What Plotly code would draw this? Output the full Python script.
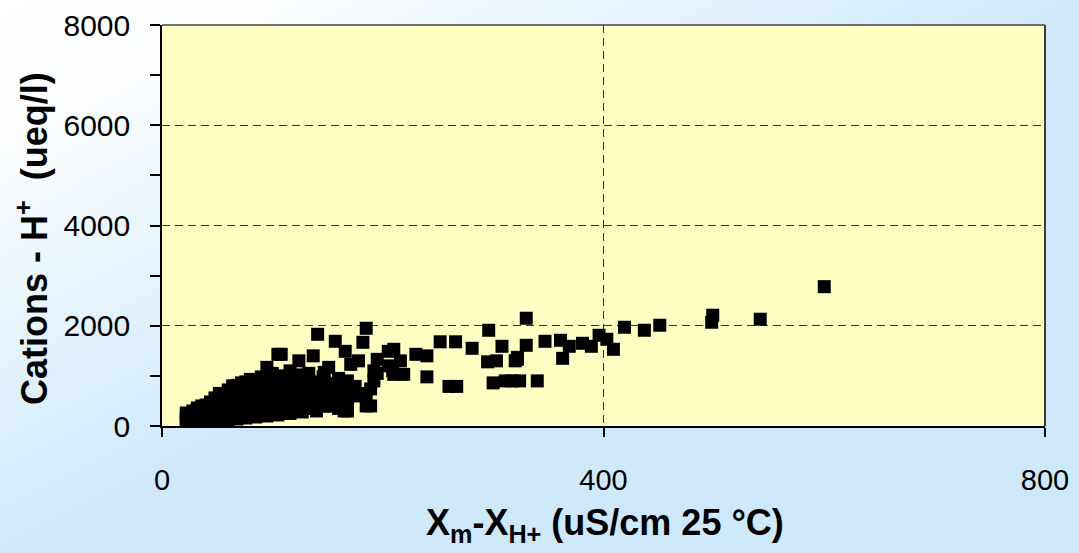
import base64
import plotly.graph_objects as go

# ---- data ----
x_cond = [
    22, 22, 22, 22, 25, 25, 25, 25, 28, 28, 28, 28,
    32, 32, 32, 32, 32, 36, 36, 36, 36, 36, 40, 40, 40, 40, 40,
    44, 44, 44, 44, 44, 48, 48, 48, 48, 48, 52, 52, 52, 52, 52, 52,
    56, 56, 56, 56, 56, 60, 60, 60, 60, 60, 60, 64, 64, 64, 64, 64, 64,
    68, 68, 68, 68, 68, 68, 72, 72, 72, 72, 72, 72, 76, 76, 76, 76, 76, 76,
    80, 80, 80, 80, 80, 80, 85, 85, 85, 85, 85, 85, 90, 90, 90, 90, 90, 90,
    95, 95, 95, 95, 95, 95, 100, 100, 100, 100, 100, 100,
    105, 105, 105, 105, 105, 105, 111, 111, 111, 111, 111,
    116, 116, 116, 116, 116, 116, 122, 122, 122, 122, 122,
    127, 127, 127, 127, 133, 133, 133, 133, 133, 140, 140, 140, 140,
    146, 146, 146, 146, 153, 153, 153, 160, 160, 160, 160,
    168, 168, 168, 168, 178, 185, 185, 192, 192,
    600, 542, 499, 498, 451, 437, 419, 409, 403, 396, 389, 381, 369, 363,
    361, 347, 330, 330, 322, 320, 324, 340, 317, 322, 311, 300, 308, 303,
    295, 296, 281, 267, 260, 266, 252, 240, 240, 230, 219, 210, 216, 210,
    209, 205, 205, 195, 195, 185, 182, 178, 171, 175, 166, 157, 141, 137,
    124, 108, 105, 151, 147, 189, 189, 165, 168, 150,
]
y_cations = [
    60, 120, 200, 260, 50, 100, 170, 240, 80, 150, 230, 300,
    60, 130, 210, 300, 360, 90, 170, 260, 340, 400, 70, 150, 240, 330, 420,
    100, 190, 290, 400, 480, 120, 230, 350, 460, 560, 90, 200, 320, 440, 580, 650,
    150, 280, 400, 520, 640, 120, 250, 380, 500, 620, 720, 180, 310, 450, 580, 700, 800,
    140, 270, 400, 540, 670, 810, 200, 330, 470, 610, 740, 860, 160, 300, 440, 580, 720, 880,
    230, 370, 510, 650, 800, 930, 180, 320, 470, 620, 760, 900, 250, 400, 550, 700, 850, 980,
    200, 350, 500, 660, 820, 1170, 280, 430, 580, 740, 900, 1050,
    220, 380, 540, 700, 860, 1000, 300, 460, 620, 780, 950,
    250, 420, 600, 760, 920, 1100, 320, 500, 680, 850, 1020,
    280, 450, 640, 820, 350, 530, 720, 900, 1050, 300, 500, 700, 880,
    400, 600, 800, 980, 400, 650, 850, 350, 550, 750, 950,
    300, 500, 700, 900, 600, 400, 650, 900, 1100,
    2780, 2130, 2210, 2070, 2010, 1910, 1970, 1530, 1730, 1810, 1590, 1650, 1590, 1350,
    1710, 1690, 2150, 1610, 1370, 1300, 900, 900, 900, 1330, 900, 860, 1590, 1300,
    1280, 1910, 1550, 790, 790, 1680, 1680, 1400, 980, 1430, 1030, 1030, 1300, 1530,
    1100, 1490, 1200, 1330, 1050, 1950, 1670, 1300, 1230, 790, 1490, 1690, 1830, 1400,
    1300, 1430, 1430, 1170, 1070, 740, 400, 300, 480, 400,
]

x_ticks = [0, 400, 800]
y_ticks = [0, 2000, 4000, 6000, 8000]
x_title = "X<sub>m</sub>-X<sub>H+</sub> (uS/cm 25 °C)"
y_title = "Cations - H<sup>+</sup>  (ueq/l)"

W, H = 1079, 553
L, R, T, B = 162, 34, 25, 127
pw, ph = W - L - R, H - T - B

svg = f'''<svg xmlns="http://www.w3.org/2000/svg" width="{W}" height="{H}" preserveAspectRatio="none">
<defs><linearGradient id="g" x1="0" y1="0" x2="1" y2="1">
<stop offset="0" stop-color="#ffffff"/><stop offset="0.12" stop-color="#fdfeff"/>
<stop offset="0.5" stop-color="#cfe9fb"/><stop offset="1" stop-color="#cde8fb"/>
</linearGradient></defs>
<rect width="{W}" height="{H}" fill="url(#g)"/></svg>'''
bg_uri = "data:image/svg+xml;base64," + base64.b64encode(svg.encode()).decode()

fig = go.Figure()
fig.add_trace(go.Scatter(
    x=x_cond, y=y_cations, mode="markers",
    marker=dict(symbol="square", size=13, color="black", line=dict(width=0)),
    showlegend=False, hoverinfo="skip",
))

font_family = "Liberation Sans, Arial, sans-serif"

fig.update_layout(
    width=W, height=H,
    margin=dict(l=L, r=R, t=T, b=B, pad=0, autoexpand=False),
    paper_bgcolor="#cfe9fb",
    plot_bgcolor="rgba(0,0,0,0)",
    font=dict(family=font_family, color="black", size=29),
    images=[dict(
        source=bg_uri, xref="paper", yref="paper",
        x=-L / pw, y=1 + T / ph, sizex=W / pw, sizey=H / ph,
        xanchor="left", yanchor="top", sizing="stretch", layer="below",
    )],
    shapes=[
        dict(type="rect", xref="paper", yref="paper", x0=0, x1=1, y0=0, y1=1,
             fillcolor="#ffffc4", line=dict(width=0), layer="below"),
        dict(type="line", xref="paper", yref="paper", x0=1, x1=1, y0=0, y1=1,
             line=dict(color="black", width=1.5), layer="above"),
        dict(type="line", xref="paper", yref="paper", x0=0, x1=1, y0=1, y1=1,
             line=dict(color="#444444", width=1.5), layer="above"),
    ],
    annotations=[
        dict(text=x_title, xref="paper", yref="paper",
             x=(605 - L) / pw, y=-(525 - (T + ph)) / ph,
             xanchor="center", yanchor="middle", showarrow=False,
             font=dict(size=36, family=font_family, weight="bold", color="black")),
        dict(text=y_title, xref="paper", yref="paper", textangle=-90,
             x=(32 - L) / pw, y=(T + ph - 239) / ph,
             xanchor="center", yanchor="middle", showarrow=False,
             font=dict(size=36, family=font_family, weight="bold", color="black")),
    ],
)

fig.update_xaxes(
    range=[0, 800], tickvals=x_ticks, ticktext=[str(v) for v in x_ticks],
    showline=True, linecolor="black", linewidth=1.5, automargin=False,
    ticks="outside", ticklen=9, tickwidth=1.5, tickcolor="black",
    ticklabelstandoff=18,
    showgrid=True, gridcolor="#333333", gridwidth=1, griddash="8px,5px",
    zeroline=False,
    tickfont=dict(size=29, family=font_family),
)
fig.update_yaxes(
    range=[0, 8000], tickvals=y_ticks, ticktext=[str(v) for v in y_ticks],
    showline=True, linecolor="black", linewidth=1.5, automargin=False,
    ticks="outside", ticklen=10, tickwidth=1.5, tickcolor="black",
    ticklabelstandoff=14,
    minor=dict(tickvals=[1000, 3000, 5000, 7000], ticks="outside", ticklen=10,
               tickwidth=1.5, tickcolor="black", showgrid=False),
    showgrid=True, gridcolor="#333333", gridwidth=1, griddash="8px,5px",
    zeroline=False,
    tickfont=dict(size=30, family=font_family),
)

fig.write_html("out.html")
